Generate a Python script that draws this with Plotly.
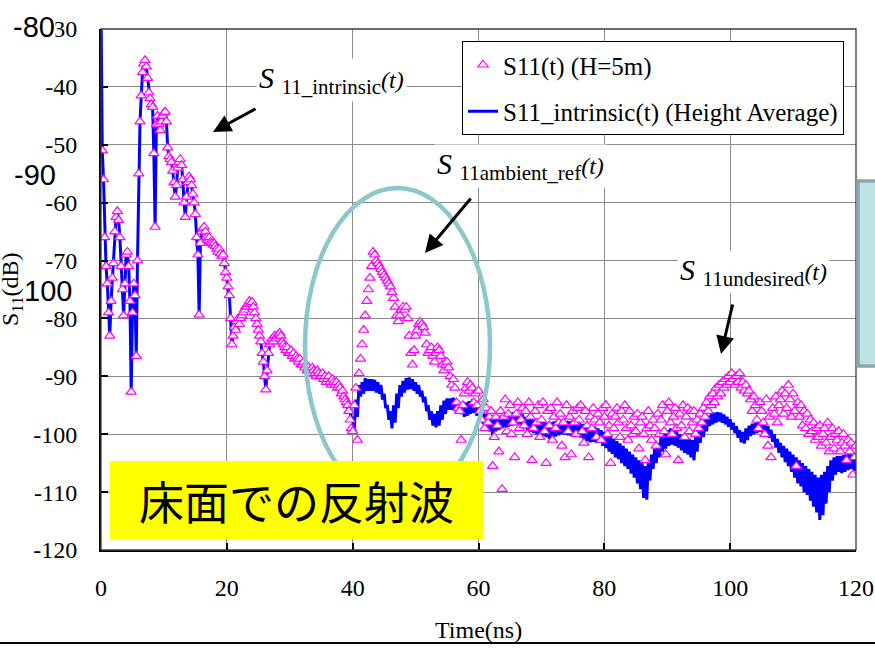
import plotly.graph_objects as go

# ---------------- data ----------------
# S11(t) (H=5m): 0 .. 39.8 ns, every 0.2 ns  (identical to intrinsic curve in this range)
s11_early = [
    -25, -51, -56, -66, -71, -74, -79, -83, -77, -73,
    -70.5, -65, -62.5, -61.5, -63, -66, -71, -75, -79.5, -74,
    -69, -68.5, -71, -77, -92.7, -79, -74, -76, -86.5, -70,
    -55, -46, -41.5, -37.5, -36, -35.4, -36.5, -38.5, -41, -42,
    -43, -43.5, -51.5, -64.2, -46.5, -45, -46.5, -47.5, -46, -45,
    -44.5, -44.3, -46, -50.5, -52, -52.5, -53, -54.5, -56.5, -59,
    -57, -54, -53, -52.5, -53.5, -56, -60, -62.5, -59, -56.5,
    -55.5, -56, -57, -58.5, -60, -62, -66, -69, -79.4, -67,
    -65, -64.5, -64.2, -65, -66, -66.5, -66, -66.8, -67, -67.3,
    -67, -67.5, -68, -68.5, -68, -68.8, -69.3, -69, -70.5, -72,
    -73, -74.5, -76, -80, -84.5, -83, -81.5, -82, -80.5, -80,
    -81, -80, -79.5, -79, -78.5, -78, -78, -77.5, -77, -77.5,
    -77.2, -78, -79, -80, -81, -82, -83, -84, -86, -87.5,
    -90, -92.3, -89, -86, -84.5, -84, -83.5, -84, -83, -83.5,
    -83, -82.8, -82.5, -83, -84, -84.5, -85, -85.5, -85, -86,
    -86, -85.5, -86.5, -86, -87, -86.5, -87, -87.5, -87, -88,
    -88, -87.5, -88.5, -88, -89, -88.5, -89, -89.5, -88.5, -89,
    -89.5, -90, -89, -89.5, -90, -90, -89.5, -90.5, -90, -91,
    -90.5, -90, -91, -91.5, -90.5, -91, -91.5, -91, -92, -91.5,
    -92, -93, -92.5, -93.5, -94, -94.5, -95, -96, -97.5, -99,
]

# S11(t) (H=5m): 40 .. 120 ns, every 0.25 ns
s11_late = [
    -99.5, -95, -92, -101,
    -89.5, -87, -84.5, -82,
    -79.5, -77, -75, -73,
    -71, -68.5, -69, -70,
    -70.5, -71, -71.5, -72,
    -72.5, -73, -73.5, -74,
    -74.5, -75.5, -76.5, -78,
    -79.5, -80.5, -79.5, -78.5,
    -78, -78.5, -78, -80,
    -83, -86, -88, -85.5,
    -83, -82, -81, -80.6,
    -81, -81.5, -82.5, -84.5,
    -86, -85.5, -85, -86.5,
    -87.5, -86, -85, -85.5,
    -86.5, -88, -89, -88,
    -87.5, -88.5, -90, -91.5,
    -90.5, -92, -94.5, -95.5,
    -96, -101, -95, -93,
    -92, -91, -92.5, -91.5,
    -92, -94.5, -93, -95,
    -92.5, -96, -97.5, -94,
    -99, -95.5, -98, -97,
    -96, -105.5, -100.5, -97,
    -98.5, -103, -96, -109.5,
    -97, -94, -99.5, -96.5,
    -95, -100, -98, -104,
    -96.5, -94.5, -99, -97.5,
    -95.5, -98.5, -96, -100,
    -94.5, -97, -104.5, -99,
    -96, -98, -95, -100.5,
    -97.5, -94.5, -99.5, -105,
    -96, -98.5, -95.5, -101,
    -97, -99, -94.5, -98,
    -96.5, -102, -98, -104,
    -95, -99.5, -97, -103.5,
    -96, -98, -100, -95.5,
    -97.5, -95, -99.5, -101.5,
    -96, -98.5, -104, -97,
    -99, -95.5, -97.5, -100.5,
    -96.5, -98, -101, -95.5,
    -97, -95, -100, -98.5,
    -105, -96.5, -99, -97,
    -95.5, -98, -100.5, -96,
    -97.5, -95, -99, -101,
    -96, -98.5, -100, -97,
    -99.5, -96.5, -102.5, -98,
    -97, -100, -104.5, -99,
    -96, -98.5, -101, -97.5,
    -99, -102, -96.5, -100,
    -97.5, -95, -99.5, -103.5,
    -96, -94.5, -98, -100,
    -97, -95.5, -99, -104.5,
    -96.5, -98.5, -95, -100.5,
    -97, -95.5, -99.5, -96,
    -98, -96, -100, -97.5,
    -99, -96.5, -98, -95.5,
    -97, -94.5, -96, -93.5,
    -95, -93, -94.5, -92,
    -93.5, -91.5, -93, -91,
    -92, -90.5, -91.5, -90,
    -91, -89.5, -90.5, -91.5,
    -90, -91, -89.5, -92,
    -91, -92.5, -91.5, -93,
    -92.5, -94, -96, -93.5,
    -95, -97.5, -99, -94.5,
    -96, -98, -100, -94,
    -102, -97, -104, -95.5,
    -96.5, -93.5, -98, -95,
    -94, -92.5, -96.5, -93,
    -95.5, -91.5, -94, -97,
    -93, -96, -105.5, -94.5,
    -97, -95, -98.5, -96,
    -99, -96.5, -100, -97.5,
    -99.5, -98, -101, -99,
    -100.5, -98.5, -102, -100,
    -99, -101.5, -98, -103,
    -100.5, -99, -102.5, -100,
    -101, -99.5, -103, -101.5,
    -100, -102, -104.5, -101,
    -103, -101.5, -107, -104,
    -102,
]

# S11_intrinsic(t) (Height Average): 39 .. 120 ns, every 0.25 ns
# (the trace flickers between the upper and lower edge of its band)
intrinsic_late = [
    -93.5, -96, -95, -97.5,
    -97, -99.5, -94, -97,
    -91.5, -93.5, -91, -93,
    -90.3, -92.5, -90.5, -92.5,
    -90.5, -92.5, -90.6, -92.8,
    -91, -93, -91.5, -94,
    -93, -95.5, -95, -97.5,
    -96, -99, -95, -98,
    -93, -95.5, -91.5, -93.5,
    -90.8, -92.8, -90.3, -92.3,
    -90.2, -92.2, -90.5, -92.5,
    -91, -93, -91.5, -93.5,
    -92.5, -94.5, -93.5, -96,
    -95, -97.5, -96, -98.5,
    -96.5, -98.8, -96, -98.5,
    -95, -97.5, -94.2, -96.5,
    -93.8, -95.8, -93.8, -95.8,
    -93.7, -95.7, -94, -96,
    -94.5, -96.5, -95, -97,
    -94.5, -96.8, -94.3, -96.5,
    -94, -96.3, -94.5, -96.8,
    -95, -97.3, -95.8, -98.2,
    -96.5, -98.8, -96.5, -99.5,
    -96.8, -100.5, -97, -99.5,
    -97, -99.3, -96.8, -99,
    -96.6, -98.8, -96.5, -98.7,
    -96.3, -98.5, -96.2, -98.4,
    -96.2, -98.3, -96.4, -98.6,
    -96.6, -98.9, -97, -99.3,
    -97.2, -99.6, -97.4, -99.8,
    -97.5, -100, -97.6, -100.2,
    -97.7, -100.3, -97.8, -100.5,
    -98, -100.8, -97.9, -100.6,
    -97.8, -100.4, -97.6, -100.2,
    -97.5, -100, -97.6, -100.1,
    -97.7, -100.2, -97.8, -100.3,
    -97.6, -100.1, -97.8, -100.4,
    -98, -100.6, -98.2, -100.9,
    -98.3, -101.2, -98.4, -101.4,
    -98.5, -101.3, -98.7, -101.5,
    -99, -101.5, -99.3, -102,
    -99.6, -102.4, -100, -103,
    -100.4, -103.4, -100.8, -104,
    -101.2, -104.3, -101.6, -105,
    -102, -105.5, -102.5, -106,
    -103, -106.8, -103.5, -107.5,
    -104, -108.5, -104.5, -109.5,
    -105, -111, -105.5, -111.3,
    -104.5, -108, -103.5, -106,
    -102.5, -105, -101.5, -104,
    -100.5, -103, -99.8, -102.5,
    -99.3, -102, -99, -101.8,
    -99.2, -102, -99.5, -102.3,
    -100, -102.8, -100.3, -103.2,
    -100.5, -103.5, -100.8, -104,
    -101, -104.5, -100.5, -103,
    -99.5, -101.5, -98.5, -100.5,
    -97.5, -99.5, -96.8, -98.6,
    -96.5, -98.3, -96.3, -98,
    -96.2, -97.8, -96.3, -98,
    -96.6, -98.3, -97, -98.7,
    -97.4, -99.2, -98, -99.8,
    -98.6, -100.6, -99.3, -101.4,
    -99.6, -101.6, -99, -101,
    -98.5, -100.3, -98.2, -100,
    -98, -99.8, -97.8, -99.6,
    -98, -99.8, -98.2, -100.2,
    -98.6, -100.6, -99.2, -101.3,
    -100, -102.3, -100.8, -103.2,
    -101.5, -104, -102, -104.8,
    -102.5, -105.5, -103, -106.5,
    -103.5, -107.5, -104, -108.5,
    -104.5, -109, -105, -110,
    -105.5, -110.5, -106, -111.5,
    -106.5, -112.5, -107, -113.5,
    -107.5, -114.8, -107, -114,
    -106.5, -112, -105.5, -110,
    -104.5, -108, -104, -107,
    -103.8, -106.5, -103.8, -106.7,
    -103.6, -106.5, -103.5, -106.2,
    -103.4, -106, -103.5, -106.3,
    -104.5,
]

x_ticks = [0, 20, 40, 60, 80, 100, 120]
y_ticks = [-120, -110, -100, -90, -80, -70, -60, -50, -40, -30]
x_tick_labels = [str(v) for v in x_ticks]
y_tick_labels = [str(v) for v in y_ticks]   # plain hyphen-minus, as in the original

name_s11 = "S11(t) (H=5m)"
name_intr = "S11_intrinsic(t) (Height Average)"

# sampling times
t_early = [round(0.2 * i, 2) for i in range(len(s11_early))]
t_late = [round(40 + 0.25 * i, 2) for i in range(len(s11_late))]
t_intr_late = [round(39 + 0.25 * i, 2) for i in range(len(intrinsic_late))]

t_s11 = t_early + t_late
v_s11 = s11_early + s11_late
t_intr = [t for t in t_early if t < 38.9] + t_intr_late
v_intr = [v for t, v in zip(t_early, s11_early) if t < 38.9] + intrinsic_late

# ---------------- layout helpers ----------------
W, H = 875, 649
ML, MR, MT, MB = 101, 19, 29, 99
PW, PH = W - ML - MR, H - MT - MB


def px(x):
    return (x - ML) / PW


def py(y):
    return (H - MB - y) / PH


SERIF = "Liberation Serif, Times New Roman, serif"
SANS = "Liberation Sans, Arial, sans-serif"
CJK = "Noto Sans CJK JP, sans-serif"

fig = go.Figure()
fig.add_trace(go.Scatter(
    x=t_intr, y=v_intr, mode="lines", name=name_intr,
    line=dict(color="#0000FF", width=3),
    legendgroup="b", legendrank=2,
))
fig.add_trace(go.Scatter(
    x=t_s11, y=v_s11, mode="markers", name=name_s11,
    marker=dict(symbol="triangle-up", size=9, color="white",
                line=dict(color="#FF00FF", width=1.2)),
    legendgroup="a", legendrank=1,
))

axis_common = dict(
    showgrid=True, gridcolor="#8a8a8a", gridwidth=1,
    showline=True, linecolor="black", linewidth=2,
    ticks="inside", ticklen=7, tickwidth=1.5, tickcolor="black",
    tickfont=dict(family=SERIF, size=24, color="black"),
    zeroline=False,
)
fig.update_xaxes(range=[0, 120], tickvals=x_ticks, ticktext=x_tick_labels,
                 ticklabelstandoff=15, **axis_common)
fig.update_yaxes(range=[-120, -30], tickvals=y_ticks, ticktext=y_tick_labels,
                 ticklabelstandoff=17, **axis_common)

shapes = [
    dict(type="rect", xref="paper", yref="paper", x0=0, x1=1, y0=0, y1=1,
         line=dict(color="#3a3a3a", width=1.3), layer="above"),
    dict(type="circle", xref="paper", yref="paper",
         x0=px(305), x1=px(490), y0=py(503), y1=py(188),
         line=dict(color="#8BC7CC", width=4.5), layer="above"),
    dict(type="rect", xref="paper", yref="paper",
         x0=px(110), x1=px(483), y0=py(539), y1=py(461),
         fillcolor="#FFFF00", line=dict(width=0), layer="above"),
    dict(type="rect", xref="paper", yref="paper",
         x0=px(858), x1=px(910), y0=py(366), y1=py(181),
         fillcolor="#BEE3E6", line=dict(color="#8FA4A7", width=3.5), layer="above"),
    dict(type="line", xref="paper", yref="paper",
         x0=px(0), x1=px(875), y0=py(643), y1=py(643),
         line=dict(color="black", width=2)),
]

ann = []
# axis titles
ann.append(dict(x=px(478), y=py(630), xref="paper", yref="paper", text="Time(ns)",
                showarrow=False, font=dict(family=SERIF, size=24, color="black"),
                xanchor="center", yanchor="middle"))
ann.append(dict(x=px(12), y=py(289), xref="paper", yref="paper", text="S<sub>11</sub>(dB)",
                textangle=-90, showarrow=False, font=dict(family=SERIF, size=24, color="black"),
                xanchor="center", yanchor="middle"))
# stray large labels
for txt, cx, cy, bg in [("-80", 34, 27, "white"), ("-90", 35, 175, None), ("100", 48, 291, None)]:
    a = dict(x=px(cx), y=py(cy), xref="paper", yref="paper", text=txt, showarrow=False,
             font=dict(family=SANS, size=29, color="black"), xanchor="center", yanchor="middle",
             borderpad=0)
    if bg:
        a["bgcolor"] = bg
    ann.append(a)


# curve labels
def slabel(sub, x_left, y_mid):
    return dict(x=px(x_left), y=py(y_mid), xref="paper", yref="paper",
                text="<i>S</i> <sub>" + sub + "</sub><span style='font-size:24px'><i>(t)</i></span>",
                showarrow=False, font=dict(family=SERIF, size=30, color="black"),
                xanchor="left", yanchor="middle", bgcolor="white", borderpad=2)


ann.append(slabel("11_intrinsic", 256, 80))
ann.append(slabel("11ambient_ref", 434, 166))
ann.append(slabel("11undesired", 677, 272))

# arrows (head, tail in pixels)
for (hx, hy), (tx, ty) in [((213, 132), (257, 108)), ((425, 253), (472, 197)), ((721, 354), (733, 303))]:
    ann.append(dict(x=px(hx), y=py(hy), xref="paper", yref="paper", text="",
                    showarrow=True, ax=tx - hx, ay=ty - hy, arrowhead=2, arrowsize=1.2,
                    arrowwidth=3, arrowcolor="black"))

# yellow box text
ann.append(dict(x=px(296.5), y=py(500), xref="paper", yref="paper", text="床面での反射波",
                showarrow=False, font=dict(family=CJK, size=45, color="black"),
                xanchor="center", yanchor="middle"))

fig.update_layout(
    width=W, height=H,
    margin=dict(l=ML, r=MR, t=MT, b=MB, autoexpand=False),
    paper_bgcolor="white", plot_bgcolor="white",
    showlegend=True,
    legend=dict(x=px(462), y=py(41), xanchor="left", yanchor="top",
                bgcolor="white", bordercolor="black", borderwidth=1,
                font=dict(family=SERIF, size=25, color="black"),
                traceorder="grouped", tracegroupgap=11),
    shapes=shapes, annotations=ann,
)

fig.write_html("out.html", config={"displayModeBar": False},
               post_script="document.body.style.margin='0px';")
